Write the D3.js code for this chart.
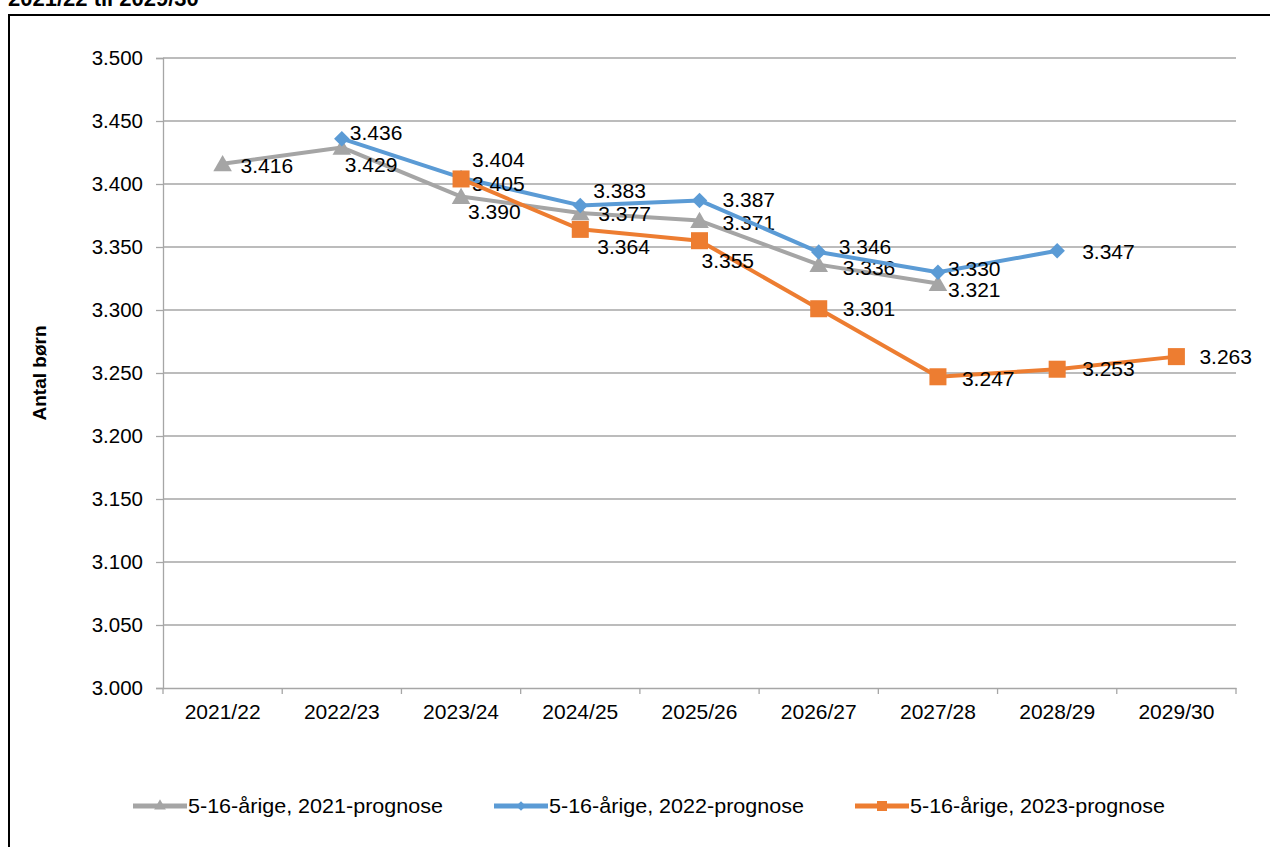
<!DOCTYPE html>
<html>
<head>
<meta charset="utf-8">
<script src="https://cdn.jsdelivr.net/npm/d3@7"></script>
<style>
  body { margin: 0; background: #fff; }
  text { font-family: "Liberation Sans", Arial, sans-serif; }
</style>
</head>
<body>
<div id="chart"></div>
<script>
const width = 1270;
const height = 847;

// school years on the x axis
const years = ["2021/22", "2022/23", "2023/24", "2024/25", "2025/26", "2026/27", "2027/28", "2028/29", "2029/30"];

// children aged 5-16, per forecast (null = not in that forecast)
const prog2021 = [3416, 3429, 3390, 3377, 3371, 3336, 3321, null, null];
const prog2022 = [null, 3436, 3405, 3383, 3387, 3346, 3330, 3347, null];
const prog2023 = [null, null, 3404, 3364, 3355, 3301, 3247, 3253, 3263];

const seriesNames = ["5-16-årige, 2021-prognose", "5-16-årige, 2022-prognose", "5-16-årige, 2023-prognose"];
const yTicks = [3000, 3050, 3100, 3150, 3200, 3250, 3300, 3350, 3400, 3450, 3500];

// hand placed data label offsets (dx, dy) like in the original
const labelOffsets = [
    [[18, 2], [3, 17], [7, 15], [18, 1], [23, 2], [24, 3], [10, 6], null, null],
    [null, [8, -6], [11, 6], [13, -15], [23, -1], [20, -5], [10, -4], [25, 1], null],
    [null, null, [11, -19], [17, 17], [2, 20], [24, 0], [24, 2], [25, -1], [23, 0]]
];

const colors = ["#a5a5a5", "#5b9bd5", "#ed7d31"];
const symbols = [d3.symbolTriangle, d3.symbolSquare, d3.symbolSquare];
const symbolSizes = [150, 120, 290];
const symbolRotate = [0, 45, 0];
const legendSizes = [60, 45, 100];

const da = d3.formatLocale({ decimal: ",", thousands: ".", grouping: [3], currency: ["", " kr."] });
const fmt = da.format(",d");

const margin = { left: 163, right: 34, top: 58, bottom: 159 };

const svg = d3.select("#chart")
    .append("svg")
    .attr("width", width)
    .attr("height", height);

// title, cut off at the top like in the original
svg.append("text")
    .attr("x", 8)
    .attr("y", 6)
    .attr("font-size", 22)
    .attr("font-weight", "bold")
    .text("2021/22 til 2029/30");

// outer frame
svg.append("rect")
    .attr("x", 9)
    .attr("y", 15)
    .attr("width", 1300)
    .attr("height", 900)
    .attr("fill", "none")
    .attr("stroke", "#000")
    .attr("stroke-width", 2);

const x = d3.scaleBand()
    .domain(years)
    .range([margin.left, width - margin.right])
    .padding(0);

const y = d3.scaleLinear()
    .domain([3000, 3500])
    .range([height - margin.bottom, margin.top]);

const cx = d => x(d) + x.bandwidth() / 2;

// gridlines
svg.append("g")
    .selectAll("line")
    .data(yTicks.slice(1))
    .enter()
    .append("line")
    .attr("x1", margin.left)
    .attr("x2", width - margin.right)
    .attr("y1", d => y(d))
    .attr("y2", d => y(d))
    .attr("stroke", "#a6a6a6")
    .attr("stroke-width", 1.3);

// y axis
const yAxis = svg.append("g")
    .attr("transform", `translate(${margin.left},0)`)
    .call(d3.axisLeft(y).tickValues(yTicks).tickFormat(fmt).tickSize(7).tickPadding(13));
yAxis.select(".domain").attr("stroke", "#a6a6a6").attr("stroke-width", 1.3);
yAxis.selectAll(".tick line").attr("stroke", "#a6a6a6").attr("stroke-width", 1.3);
yAxis.selectAll(".tick text").attr("font-size", 20.5).attr("fill", "#000")
    .attr("font-family", "Liberation Sans, Arial, sans-serif");

// x axis
const xAxis = svg.append("g")
    .attr("transform", `translate(0,${y(3000)})`)
    .call(d3.axisBottom(x).tickSize(0).tickPadding(16));
xAxis.select(".domain").attr("stroke", "#a6a6a6").attr("stroke-width", 1.3);
xAxis.selectAll(".tick text").attr("font-size", 21).attr("fill", "#000")
    .attr("font-family", "Liberation Sans, Arial, sans-serif");
// tick marks at category boundaries
xAxis.selectAll(".bound")
    .data(years.concat(["end"]))
    .enter()
    .append("line")
    .attr("class", "bound")
    .attr("x1", (d, i) => i < years.length ? x(d) : x(years[years.length - 1]) + x.bandwidth())
    .attr("x2", (d, i) => i < years.length ? x(d) : x(years[years.length - 1]) + x.bandwidth())
    .attr("y1", 0)
    .attr("y2", 6)
    .attr("stroke", "#a6a6a6")
    .attr("stroke-width", 1.3);

// y axis title
svg.append("text")
    .attr("transform", `translate(46,${(y(3000) + y(3500)) / 2}) rotate(-90)`)
    .attr("text-anchor", "middle")
    .attr("font-size", 19)
    .attr("font-weight", "bold")
    .text("Antal børn");

const allSeries = [prog2021, prog2022, prog2023];

const line = d3.line()
    .defined(d => d.v !== null)
    .x(d => cx(d.year))
    .y(d => y(d.v));

allSeries.forEach((vals, si) => {
    const pts = vals.map((v, i) => ({ year: years[i], v: v, off: labelOffsets[si][i] }));
    const g = svg.append("g");

    g.append("path")
        .datum(pts)
        .attr("d", line)
        .attr("fill", "none")
        .attr("stroke", colors[si])
        .attr("stroke-width", 4)
        .attr("stroke-linejoin", "round");

    const valid = pts.filter(d => d.v !== null);

    g.selectAll(".mark")
        .data(valid)
        .enter()
        .append("path")
        .attr("class", "mark")
        .attr("transform", d => `translate(${cx(d.year)},${y(d.v) + (si === 0 ? 2 : 0)}) rotate(${symbolRotate[si]})`)
        .attr("d", d3.symbol().type(symbols[si]).size(symbolSizes[si]))
        .attr("fill", colors[si]);

    g.selectAll(".lbl")
        .data(valid)
        .enter()
        .append("text")
        .attr("class", "lbl")
        .attr("x", d => cx(d.year) + d.off[0])
        .attr("y", d => y(d.v) + d.off[1])
        .attr("dy", "0.35em")
        .attr("font-size", 21)
        .text(d => fmt(d.v));
});

// legend
const legend = svg.append("g")
    .attr("transform", `translate(133,806)`);

seriesNames.forEach((name, i) => {
    const item = legend.append("g")
        .attr("transform", `translate(${i * 361},0)`);
    item.append("line")
        .attr("x1", 0)
        .attr("x2", 54)
        .attr("stroke", colors[i])
        .attr("stroke-width", 5);
    item.append("path")
        .attr("transform", `translate(27,0) rotate(${symbolRotate[i]})`)
        .attr("d", d3.symbol().type(symbols[i]).size(legendSizes[i]))
        .attr("fill", colors[i]);
    item.append("text")
        .attr("x", 55)
        .attr("dy", "0.35em")
        .attr("font-size", 21)
        .attr("textLength", 255)
        .attr("lengthAdjust", "spacingAndGlyphs")
        .text(name);
});
</script>
</body>
</html>
